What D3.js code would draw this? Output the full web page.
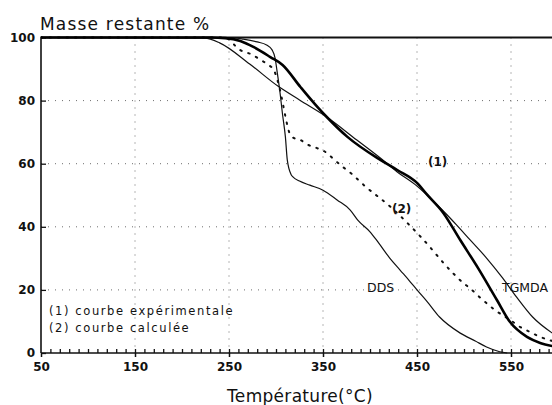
<!DOCTYPE html>
<html>
<head>
<meta charset="utf-8">
<script src="https://cdn.jsdelivr.net/npm/d3@7"></script>
<style>
  html, body { margin: 0; padding: 0; background: #fff; }
  svg { display: block; }
  text { font-family: "DejaVu Sans", sans-serif; fill: #111; }
</style>
</head>
<body>
<script>
// Thermogravimetric curves: residual mass (%) against temperature (°C)
const xTicks = [50, 150, 250, 350, 450, 550];
const yTicks = [0, 20, 40, 60, 80, 100];

// DDS alone
const ddsT = [50, 250, 265, 280, 290, 296, 299, 301, 304, 307, 310, 312, 316, 318, 325, 336, 350, 365, 379, 387, 400, 407, 421, 432, 443, 450, 461, 474, 496, 512, 524, 538, 546];
const ddsM = [100, 100, 99.5, 98.6, 97.6, 96, 93.5, 89.6, 83.2, 75.5, 68.5, 61.2, 56.6, 55.8, 54.5, 53.2, 51.6, 48.5, 45.3, 42.1, 38.4, 35.8, 30.1, 26.3, 22.5, 20, 16.2, 11.4, 6.3, 3.8, 1.9, 0.4, 0];

// TGMDA alone
const tgmdaT = [50, 224, 240, 272, 302, 325, 354, 386, 411, 429, 450, 464, 478, 492, 506, 524, 541, 556, 573, 594, 610];
const tgmdaM = [100, 99.8, 98.3, 91.6, 84.6, 80.2, 74.8, 67.5, 61.8, 57.4, 52.9, 49.1, 45, 40.6, 36, 30.1, 23.8, 17.7, 11.4, 6.3, 3.5];

// (1) experimental curve of the mixture
const expT = [50, 230, 246, 262, 276, 294, 307, 326, 344, 354, 376, 411, 429, 450, 461, 478, 496, 515, 535, 549, 567, 581, 594, 610];
const expM = [100, 100, 99.8, 98.9, 97, 93.8, 91.3, 84.3, 78, 74.8, 68.5, 61.2, 58, 53.9, 50.1, 44.4, 35.8, 26.9, 16.8, 9.8, 5.1, 3.2, 2.2, 1.5];

// (2) calculated curve of the mixture
const calcT = [50, 245, 262, 275, 283, 292, 298, 302, 306, 310, 314, 318, 326, 334, 343, 354, 360, 371, 382, 392, 423, 455, 487, 498, 506, 520, 533, 549, 560, 570, 581, 594, 610];
const calcM = [100, 100, 96, 94.5, 93, 91.3, 89.5, 86, 81, 75, 70, 68.3, 67.5, 66, 65, 63.4, 61.8, 59, 56.4, 53.6, 46, 36.5, 25.7, 22.5, 20.6, 16.8, 13.6, 10.5, 8.2, 6.7, 5.1, 3.8, 2.6];

const W = 552, H = 405;
const x = d3.scaleLinear().domain([50, 600]).range([41, 558]);
const y = d3.scaleLinear().domain([0, 100]).range([353, 37.5]);

const svg = d3.select("body").append("svg").attr("width", W).attr("height", H);

svg.append("clipPath").attr("id", "plot")
  .append("rect").attr("x", 41).attr("y", 36).attr("width", W - 41).attr("height", 318);

// dotted grid
const grid = svg.append("g").attr("stroke", "#222").attr("stroke-width", 1)
  .attr("stroke-dasharray", "1,6").attr("opacity", 0.65);
grid.selectAll("line.v").data(xTicks.slice(1)).join("line")
  .attr("x1", d => x(d)).attr("x2", d => x(d)).attr("y1", y(100)).attr("y2", y(0));
grid.selectAll("line.h").data(yTicks.slice(1, -1)).join("line")
  .attr("x1", x(50)).attr("x2", W).attr("y1", d => y(d)).attr("y2", d => y(d));

// axes
const minor = d3.range(60, 600, 10);
const gxMinor = svg.append("g").attr("transform", `translate(0,${y(0)})`)
  .call(d3.axisBottom(x).tickValues(minor).tickSize(-4).tickFormat(""));
gxMinor.select(".domain").remove();
gxMinor.selectAll("line").attr("stroke", "#111").attr("stroke-width", 1.3);

const gx = svg.append("g").attr("transform", `translate(0,${y(0)})`)
  .call(d3.axisBottom(x).tickValues(xTicks).tickSize(4).tickPadding(5).tickFormat(d3.format("d")));
gx.select(".domain").remove();
gx.selectAll("line").attr("stroke", "#111").attr("stroke-width", 1.5);
gx.selectAll("text").style("font-size", "12px").style("font-weight", "bold").attr("fill", "#111");

const gy = svg.append("g").attr("transform", `translate(${x(50)},0)`)
  .call(d3.axisLeft(y).tickValues(yTicks).tickSize(-5).tickPadding(6).tickFormat(d3.format("d")));
gy.select(".domain").remove();
gy.selectAll("line").attr("stroke", "#111").attr("stroke-width", 1.3);
gy.selectAll("text").style("font-size", "12px").style("font-weight", "bold").attr("fill", "#111");

// frame: left axis, bottom axis and top border
svg.append("line").attr("x1", x(50)).attr("x2", x(50)).attr("y1", y(100) - 1).attr("y2", y(0))
  .attr("stroke", "#111").attr("stroke-width", 1.6);
svg.append("line").attr("x1", x(50)).attr("x2", W).attr("y1", y(0)).attr("y2", y(0))
  .attr("stroke", "#111").attr("stroke-width", 1.6);
svg.append("line").attr("x1", x(50)).attr("x2", W).attr("y1", y(100)).attr("y2", y(100))
  .attr("stroke", "#111").attr("stroke-width", 2.2);

// curves
const line = d3.line().x(d => x(d[0])).y(d => y(d[1])).curve(d3.curveMonotoneX);
const curves = svg.append("g").attr("clip-path", "url(#plot)").attr("fill", "none");
const zip = (a, b) => a.map((t, i) => [t, b[i]]);

curves.append("path").datum(zip(ddsT, ddsM)).attr("d", line)
  .attr("stroke", "#111").attr("stroke-width", 1.2);
curves.append("path").datum(zip(tgmdaT, tgmdaM)).attr("d", line)
  .attr("stroke", "#111").attr("stroke-width", 1.2);
curves.append("path").datum(zip(calcT, calcM)).attr("d", line)
  .attr("stroke", "#111").attr("stroke-width", 2).attr("stroke-dasharray", "1.5,7")
  .attr("stroke-linecap", "round");
curves.append("path").datum(zip(expT, expM)).attr("d", line)
  .attr("stroke", "#000").attr("stroke-width", 2.6);

// labels
svg.append("text").attr("x", 40).attr("y", 30).style("font-size", "17px")
  .style("letter-spacing", "1.2px").text("Masse restante %");
svg.append("text").attr("x", 300).attr("y", 402).attr("text-anchor", "middle")
  .style("font-size", "17px").style("letter-spacing", "0.3px").text("Température(°C)");

svg.append("text").attr("x", 428).attr("y", 166).style("font-size", "12px")
  .style("font-weight", "bold").text("(1)");
svg.append("text").attr("x", 392).attr("y", 213).style("font-size", "12px")
  .style("font-weight", "bold").text("(2)");
svg.append("text").attr("x", 367).attr("y", 292).style("font-size", "12.5px").text("DDS");
svg.append("text").attr("x", 502).attr("y", 292).style("font-size", "12.5px").text("TGMDA");

svg.append("text").attr("x", 49).attr("y", 315).style("font-size", "11.5px")
  .style("letter-spacing", "1.6px").text("(1) courbe expérimentale");
svg.append("text").attr("x", 49).attr("y", 332).style("font-size", "11.5px")
  .style("letter-spacing", "1.6px").text("(2) courbe calculée");
</script>
</body>
</html>
